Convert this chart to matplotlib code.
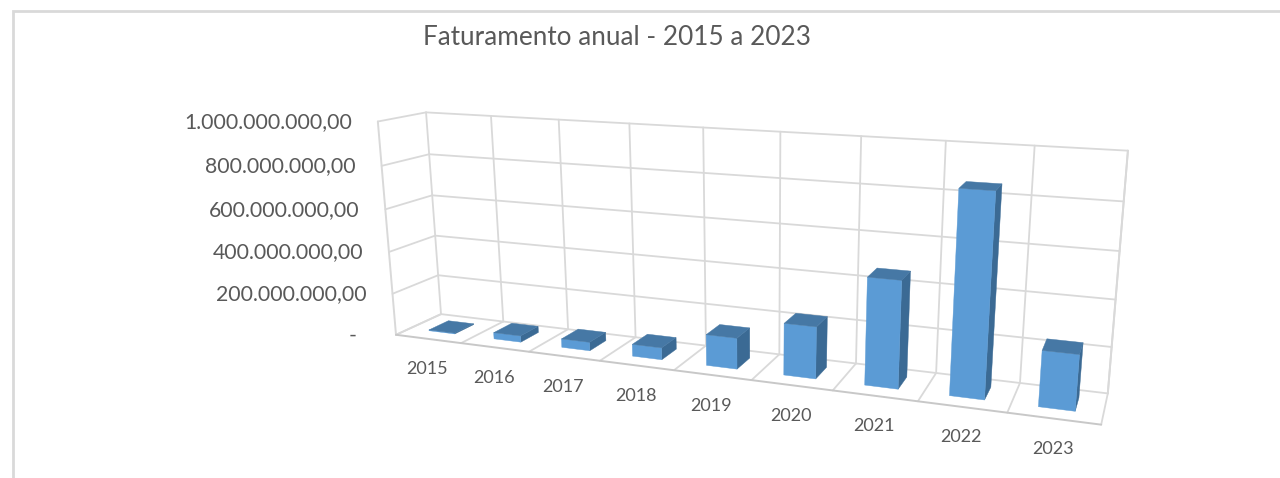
from __future__ import annotations

import matplotlib.pyplot as plt
import numpy as np
from matplotlib.patches import Polygon

years = ["2015", "2016", "2017", "2018", "2019", "2020", "2021", "2022", "2023"]
revenue = [4e6, 30e6, 40e6, 55e6, 140e6, 230e6, 465e6, 855e6, 235e6]
ticks = [0, 200e6, 400e6, 600e6, 800e6, 1000e6]
tick_labels = ["-", "200.000.000,00", "400.000.000,00", "600.000.000,00", "800.000.000,00", "1.000.000.000,00"]
title = "Faturamento anual - 2015 a 2023"

Y_MAX = 1e9
GRID = "#d9d9d9"
TEXT = "#595959"
FRONT = "#5b9bd5"
TOP = "#4678a5"
SIDE = "#3b6a94"

# chart box corners in pixels: (category, value / max, depth) -> (px, py)
anchors = [
    ((0, 1, 0), (378, 121)),
    ((0, 0, 0), (396, 335)),
    ((0, 1, 1), (426, 111)),
    ((0, 0, 1), (441, 314)),
    ((9, 1, 1), (1128, 149)),
    ((9, 0, 1), (1108, 393)),
    ((9, 0, 0), (1101, 425)),
    ((4, 1, 1), (703, 131)),
]


def fit_camera(points):
    rows, rhs = [], []
    for (x, y, z), (px, py) in points:
        rows.append([x, y, z, 1, 0, 0, 0, 0, -px * x, -px * y, -px * z])
        rows.append([0, 0, 0, 0, x, y, z, 1, -py * x, -py * y, -py * z])
        rhs += [px, py]
    sol = np.linalg.lstsq(np.array(rows, float), np.array(rhs, float), rcond=None)[0]
    return np.append(sol, 1).reshape(3, 4)


camera = fit_camera(anchors)


def project(x, value, z):
    u, v, w = camera @ np.array([x, value / Y_MAX, z, 1.0])
    return u / w, v / w


fig = plt.figure(figsize=(12.8, 4.78), dpi=100)
ax = fig.add_axes([0, 0, 1, 1])
ax.set_xlim(0, 1280)
ax.set_ylim(478, 0)
ax.axis("off")


def line(p0, p1, color=GRID, lw=1.3):
    ax.plot([p0[0], p1[0]], [p0[1], p1[1]], color=color, lw=lw, solid_capstyle="round", zorder=1)


# outer chart frame, cut off by the screenshot
ax.plot([13, 13, 1280], [478, 10.5, 10.5], color="#d9d9d9", lw=2.0, solid_joinstyle="miter")

# walls and floor
for t in ticks:
    line(project(0, t, 0), project(0, t, 1))
    line(project(0, t, 1), project(9, t, 1))
for i in range(10):
    line(project(i, Y_MAX, 1), project(i, 0, 1))
    line(project(i, 0, 1), project(i, 0, 0))
line(project(0, Y_MAX, 0), project(0, 0, 0), lw=1.4)
line(project(9, Y_MAX, 1), project(9, 0, 1), lw=1.4)
line(project(0, 0, 0), project(9, 0, 0), color="#c8c8c8", lw=1.4)

# bars, back wall side first so the faces overlap correctly
half_w = 0.2
z0, z1 = 0.3, 0.74
for i, val in enumerate(revenue):
    x0, x1 = i + 0.5 - half_w, i + 0.5 + half_w
    front = [project(x0, 0, z0), project(x1, 0, z0), project(x1, val, z0), project(x0, val, z0)]
    side = [project(x1, 0, z0), project(x1, 0, z1), project(x1, val, z1), project(x1, val, z0)]
    top = [project(x0, val, z0), project(x1, val, z0), project(x1, val, z1), project(x0, val, z1)]
    for verts, color in ((side, SIDE), (front, FRONT), (top, TOP)):
        ax.add_patch(Polygon(verts, closed=True, facecolor=color, edgecolor=color, lw=0.3, zorder=3))

# value labels follow the slanted left edge
for t, label in zip(ticks, tick_labels):
    px, py = project(0, t, 0)
    if label == "-":
        px -= 13
    ax.text(px - 26, py + 0.5, label, ha="right", va="center", fontsize=15.3, color=TEXT, family="Lato")

for i, year in enumerate(years):
    px, py = project(i + 0.5, 0, 0)
    ax.text(px - 1, py + 30.5, year, ha="center", va="center", fontsize=13, color=TEXT, family="Lato")

ax.text(617, 37, title, ha="center", va="center", fontsize=18.8, color=TEXT, family="Lato")

fig.savefig("out.png", dpi=100)
plt.close(fig)
